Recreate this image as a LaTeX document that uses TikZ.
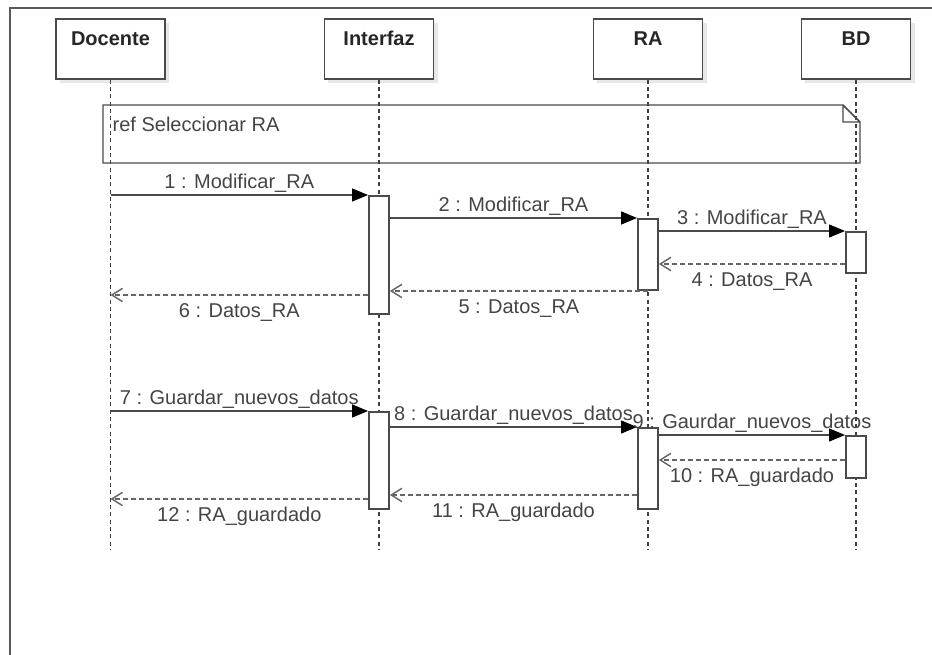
\documentclass[tikz,border=0pt]{standalone}
\usepackage{fontspec}
\setmainfont{Liberation Sans}
\usetikzlibrary{positioning,shadows,arrows.meta}
\definecolor{linegray}{HTML}{4A4A4A}
\definecolor{textgray}{HTML}{444444}

\begin{document}
\begin{tikzpicture}[x=0.75pt, y=-0.75pt,
                      every node/.style = {text=textgray, font=\fontsize{15}{18}\selectfont},
                      actor/.style = {shape=rectangle, draw=linegray, line width=1.1pt, fill=white,
                        minimum width=82pt, minimum height=45pt, inner ysep=4.5pt,
                        text height=15.75pt, text depth=20.25pt, text=black!85,
                        font=\bfseries\fontsize{15}{18}\selectfont,
                        drop shadow={shadow xshift=3pt, shadow yshift=-3pt, opacity=0.18}},
                      bar/.style = {shape=rectangle, draw=linegray, line width=1.3pt, fill=white,
                        minimum width=15pt, minimum height=#1, inner sep=0pt, anchor=north},
                      life/.style = {draw=black!75, line width=1pt, dash pattern=on 3pt off 2.5pt},
                      call/.style = {draw=linegray, line width=1.6pt,
                        -{Triangle[length=12pt,width=9.5pt,color=black]}},
                      reply/.style = {draw=black!60, line width=1.1pt, dash pattern=on 3.5pt off 2.5pt,
                        -{Straight Barb[length=8pt,width=10pt]}},
                      msgtop/.style = {midway, anchor=base, yshift=4.5pt},
                      msgbot/.style = {midway, anchor=base, yshift=-17.25pt}]
  \useasboundingbox (0,0) rectangle (932,655);
  \draw[black!65, line width=1.1pt] (10,655) -- (10,8) -- (932,8);

  % objetos
  \node[actor] (docente)  at (110.5,49) {Docente};
  \node[actor] (interfaz) at (379,49)   {Interfaz};
  \node[actor] (ra)       at (648,49)   {RA};
  \node[actor] (bd)       at (856,49)   {BD};
  \foreach \n in {docente,interfaz,ra,bd}
    \draw[life] (\n.south) -- (\n.south |- 0,550);

  % ref
  \draw[linegray, line width=1.1pt] (103,105) -- (843,105) -- (860,122) -- (860,163) -- (103,163) -- cycle
        (843,105) -- (843,122) -- (860,122);
  \node[anchor=base west] (ref) at (108,132) {ref Seleccionar RA};

  % activaciones
  \node[bar=88.5pt]  (i1) at (379,195) {};
  \node[bar=53.25pt] (r1) at (648,218) {};
  \node[bar=30.75pt] (b1) at (856,231) {};
  \node[bar=72.75pt] (i2) at (379,411) {};
  \node[bar=60.75pt] (r2) at (648,427) {};
  \node[bar=31.5pt]  (b2) at (856,435) {};

  % mensajes
  \draw[call]  (docente |- i1.north) -- (i1.north west) node[msgtop] {1 : Modificar\_RA};
  \draw[call]  (i1.east |- r1.north) -- (r1.north west) node[msgtop] {2 : Modificar\_RA};
  \draw[call]  (r1.east |- b1.north) -- (b1.north west) node[msgtop] {3 : Modificar\_RA};
  \draw[reply] (b1.west |- 0,264) -- (r1.east |- 0,264) node[msgbot] {4 : Datos\_RA};
  \draw[reply] (ra |- 0,291) -- (i1.east |- 0,291) node[msgbot] {5 : Datos\_RA};
  \draw[reply] (i1.west |- 0,295) -- (docente |- 0,295) node[msgbot] {6 : Datos\_RA};

  \draw[call]  (docente |- i2.north) -- (i2.north west) node[msgtop] {7 : Guardar\_nuevos\_datos};
  \draw[call]  (i2.east |- r2.north) -- (r2.north west) node[msgtop] {8 : Guardar\_nuevos\_datos};
  \draw[call]  (r2.east |- b2.north) -- (b2.north west) node[msgtop] {9 : Gaurdar\_nuevos\_datos};
  \draw[reply] (b2.west |- 0,460) -- (r2.east |- 0,460) node[msgbot] {10 : RA\_guardado};
  \draw[reply] (r2.west |- 0,495) -- (i2.east |- 0,495) node[msgbot] {11 : RA\_guardado};
  \draw[reply] (i2.west |- 0,499) -- (docente |- 0,499) node[msgbot] {12 : RA\_guardado};
\end{tikzpicture}
\end{document}
